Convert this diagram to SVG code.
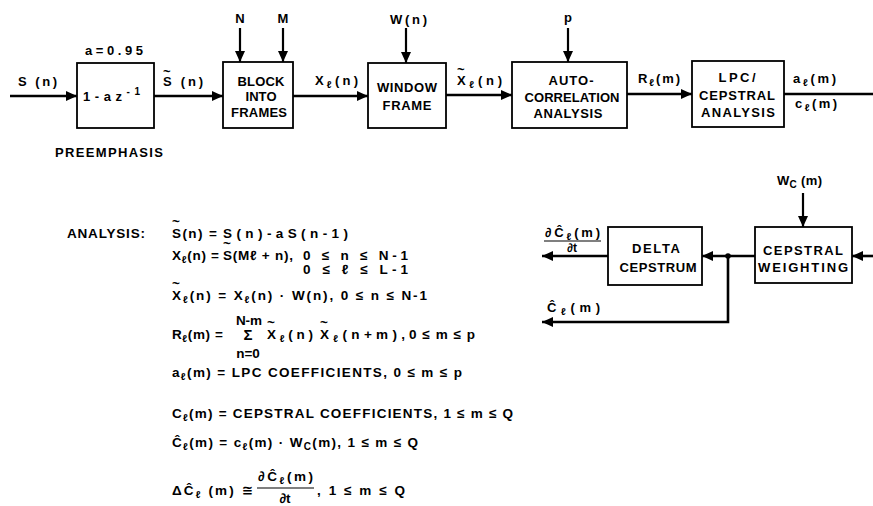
<svg xmlns="http://www.w3.org/2000/svg" width="873" height="506" viewBox="0 0 873 506">
<style>
text{font-family:'Liberation Sans','DejaVu Sans',sans-serif;font-weight:bold;font-size:13px;fill:#000}
.eq{font-size:13.5px}
.sm{font-size:10px}
.box{fill:#fff;stroke:#000;stroke-width:1.8}
.wire{stroke:#000;stroke-width:2.6;fill:none}
.thin{stroke:#000;stroke-width:2.2;fill:none}
.bar{stroke:#000;stroke-width:1.2}
.mid{text-anchor:middle}
</style>
<defs>
<marker id="ah" markerUnits="userSpaceOnUse" markerWidth="11" markerHeight="10" refX="11" refY="5" orient="auto">
<path d="M0,0 L11,5 L0,10 z" fill="#000"/>
</marker>
</defs>
<rect width="873" height="506" fill="#fff"/>

<g id="connectors">
<line class="wire" x1="10" y1="96" x2="77" y2="96" marker-end="url(#ah)"/>
<line class="wire" x1="154" y1="96" x2="223" y2="96" marker-end="url(#ah)"/>
<line class="thin" x1="240" y1="28" x2="240" y2="62" marker-end="url(#ah)"/>
<line class="thin" x1="283" y1="28" x2="283" y2="62" marker-end="url(#ah)"/>
<line class="wire" x1="293" y1="96" x2="368" y2="96" marker-end="url(#ah)"/>
<line class="thin" x1="406" y1="28" x2="406" y2="63" marker-end="url(#ah)"/>
<line class="wire" x1="446" y1="95" x2="512" y2="95" marker-end="url(#ah)"/>
<line class="thin" x1="568" y1="28" x2="568" y2="62" marker-end="url(#ah)"/>
<line class="wire" x1="627" y1="94" x2="692" y2="94" marker-end="url(#ah)"/>
<line class="wire" x1="784" y1="94" x2="873" y2="94"/>
<line class="wire" x1="873" y1="256" x2="852" y2="256" marker-end="url(#ah)"/>
<line class="thin" x1="803" y1="193" x2="803" y2="227" marker-end="url(#ah)"/>
<line class="wire" x1="755" y1="256" x2="702" y2="256" marker-end="url(#ah)"/>
<line class="wire" x1="608" y1="256" x2="542" y2="256" marker-end="url(#ah)"/>
<polyline class="wire" points="728,256 728,322 542,322" marker-end="url(#ah)"/>
<circle cx="728" cy="256" r="2.8" fill="#000"/>
</g>

<g id="preemphasis">
<rect class="box" x="77" y="63" width="77" height="65"/>
<text x="83" y="101" textLength="57">1-az<tspan class="sm" dy="-6">-1</tspan></text>
<text x="85" y="55" textLength="58">a=0.95</text>
<text x="55" y="157" textLength="108">PREEMPHASIS</text>
</g>

<g id="block-into-frames">
<rect class="box" x="223" y="62" width="70" height="66"/>
<text class="mid" x="261" y="86" textLength="47">BLOCK</text>
<text class="mid" x="261" y="101" textLength="31">INTO</text>
<text class="mid" x="259" y="117" textLength="56">FRAMES</text>
</g>

<g id="window-frame">
<rect class="box" x="368" y="63" width="78" height="65"/>
<text class="mid" x="407" y="92" textLength="60">WINDOW</text>
<text class="mid" x="407" y="110" textLength="49">FRAME</text>
</g>

<g id="autocorrelation">
<rect class="box" x="512" y="62" width="115" height="66"/>
<text class="mid" x="571" y="85" textLength="45">AUTO-</text>
<text class="mid" x="572" y="102" textLength="95">CORRELATION</text>
<text class="mid" x="568" y="118" textLength="69">ANALYSIS</text>
</g>

<g id="lpc-cepstral">
<rect class="box" x="692" y="61" width="92" height="66"/>
<text class="mid" x="737" y="82" textLength="37">LPC/</text>
<text class="mid" x="737" y="100" textLength="76">CEPSTRAL</text>
<text class="mid" x="738" y="117" textLength="74">ANALYSIS</text>
</g>

<g id="cepstral-weighting">
<rect class="box" x="755" y="227" width="97" height="56"/>
<text class="mid" x="803" y="255" textLength="80">CEPSTRAL</text>
<text class="mid" x="803" y="272" textLength="90">WEIGHTING</text>
</g>

<g id="delta-cepstrum">
<rect class="box" x="608" y="227" width="94" height="58"/>
<text class="mid" x="656" y="253" textLength="48">DELTA</text>
<text class="mid" x="658" y="272" textLength="77">CEPSTRUM</text>
</g>

<g id="signal-labels">
<text x="18" y="86" textLength="39">S (n)</text>
<text x="163" y="86" textLength="40">S (n)</text>
<text x="163" y="76">~</text>
<text class="mid" x="240" y="23">N</text>
<text class="mid" x="283" y="23">M</text>
<text x="315" y="85" textLength="43">X<tspan class="sm" dy="3">ℓ</tspan><tspan dy="-3">(n)</tspan></text>
<text x="390" y="24" textLength="37">W(n)</text>
<text x="457" y="85" textLength="45">X<tspan class="sm" dy="3">ℓ</tspan><tspan dy="-3">(n)</tspan></text>
<text x="457" y="74">~</text>
<text class="mid" x="568" y="22">p</text>
<text x="638" y="83" textLength="42">R<tspan class="sm" dy="3">ℓ</tspan><tspan dy="-3">(m)</tspan></text>
<text x="793" y="83" textLength="43">a<tspan class="sm" dy="3">ℓ</tspan><tspan dy="-3">(m)</tspan></text>
<text x="795" y="108" textLength="42">c<tspan class="sm" dy="3">ℓ</tspan><tspan dy="-3">(m)</tspan></text>
<text x="777" y="185" textLength="45">W<tspan class="sm" dy="3">C</tspan><tspan dy="-3"> (m)</tspan></text>
<text x="545" y="237" textLength="55">∂Ĉ<tspan class="sm" dy="3">ℓ</tspan><tspan dy="-3">(m)</tspan></text>
<line class="bar" x1="544" y1="241" x2="601" y2="241"/>
<text class="mid" x="572" y="252" style="font-size:12px">∂t</text>
<text x="547" y="312" textLength="53">Ĉ<tspan class="sm" dy="3">ℓ</tspan><tspan dy="-3">(m)</tspan></text>
</g>

<g id="equations">
<text class="eq" x="67" y="238" textLength="78">ANALYSIS:</text>
<text class="eq" x="172" y="238" textLength="45">S(n) =</text>
<text class="eq" x="172" y="226">~</text>
<text class="eq" x="223" y="238" textLength="125">S(n)-aS(n-1)</text>

<text class="eq" x="172" y="260" textLength="47">X<tspan class="sm" dy="3">ℓ</tspan><tspan dy="-3">(n) =</tspan></text>
<text class="eq" x="223" y="260" textLength="70">S(Mℓ + n),</text>
<text class="eq" x="223" y="248">~</text>
<text class="eq" x="303" y="260" textLength="105">0 ≤ n ≤ N-1</text>
<text class="eq" x="303" y="274" textLength="105">0 ≤ ℓ ≤ L-1</text>

<text class="eq" x="172" y="300" textLength="255">X<tspan class="sm" dy="3">ℓ</tspan><tspan dy="-3">(n) = X</tspan><tspan class="sm" dy="3">ℓ</tspan><tspan dy="-3">(n) · W(n), 0 ≤ n ≤ N-1</tspan></text>
<text class="eq" x="172" y="288">~</text>

<text class="eq" x="172" y="339" textLength="51">R<tspan class="sm" dy="3">ℓ</tspan><tspan dy="-3">(m) =</tspan></text>
<text class="eq mid" x="249" y="325">N-m</text>
<text class="eq mid" x="248" y="340" style="font-size:15px">Σ</text>
<text class="eq mid" x="248" y="358">n=0</text>
<text class="eq" x="267" y="339" textLength="46">X<tspan class="sm" dy="3">ℓ</tspan><tspan dy="-3">(n)</tspan></text>
<text class="eq" x="267" y="327">~</text>
<text class="eq" x="320" y="339" textLength="85">X<tspan class="sm" dy="3">ℓ</tspan><tspan dy="-3">(n+m),</tspan></text>
<text class="eq" x="320" y="327">~</text>
<text class="eq" x="409" y="339" textLength="66">0 ≤ m ≤ p</text>

<text class="eq" x="172" y="377" textLength="290">a<tspan class="sm" dy="3">ℓ</tspan><tspan dy="-3">(m) = LPC COEFFICIENTS, 0 ≤ m ≤ p</tspan></text>
<text class="eq" x="172" y="418" textLength="341">C<tspan class="sm" dy="3">ℓ</tspan><tspan dy="-3">(m) = CEPSTRAL COEFFICIENTS, 1 ≤ m ≤ Q</tspan></text>
<text class="eq" x="172" y="447" textLength="246">Ĉ<tspan class="sm" dy="3">ℓ</tspan><tspan dy="-3">(m) = c</tspan><tspan class="sm" dy="3">ℓ</tspan><tspan dy="-3">(m) · W</tspan><tspan class="sm" dy="3">C</tspan><tspan dy="-3">(m), 1 ≤ m ≤ Q</tspan></text>

<text class="eq" x="172" y="495" textLength="81">ΔĈ<tspan class="sm" dy="3">ℓ</tspan><tspan dy="-3"> (m) ≅</tspan></text>
<text class="eq" x="258" y="481" textLength="55">∂Ĉ<tspan class="sm" dy="3">ℓ</tspan><tspan dy="-3">(m)</tspan></text>
<line class="bar" x1="257" y1="488" x2="314" y2="488"/>
<text class="eq mid" x="285" y="503">∂t</text>
<text class="eq" x="317" y="495" textLength="88">, 1 ≤ m ≤ Q</text>
</g>
</svg>
